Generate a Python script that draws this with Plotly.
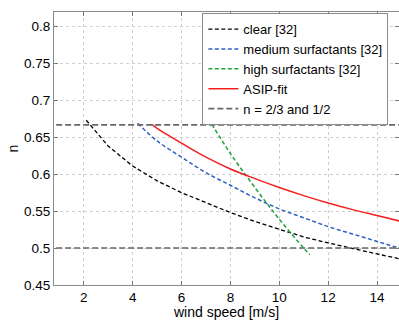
import plotly.graph_objects as go

# ---- data ----
clear_u = [2.1, 3, 4, 5, 6, 7, 8, 9, 10, 11, 12, 13, 14, 15]
clear_n = [0.673, 0.638, 0.611, 0.591, 0.575, 0.561, 0.548, 0.536, 0.525, 0.515, 0.507, 0.499, 0.492, 0.485]

medium_u = [4.2, 5, 6, 7, 8, 9, 10, 11, 12, 13, 14, 15]
medium_n = [0.669, 0.645, 0.623, 0.602, 0.585, 0.568, 0.553, 0.541, 0.529, 0.519, 0.509, 0.499]

high_u = [7.1, 8, 9, 10, 11, 11.25]
high_n = [0.675, 0.628, 0.582, 0.539, 0.500, 0.491]

asip_u = [4.8, 5, 6, 7, 8, 9, 10, 11, 12, 13, 14, 15]
asip_n = [0.667, 0.662, 0.642, 0.623, 0.607, 0.594, 0.582, 0.571, 0.561, 0.552, 0.544, 0.536]

ref_levels = [2 / 3, 1 / 2]
ref_u = [0.5, 15.5]

x_ticks = [2, 4, 6, 8, 10, 12, 14]
y_ticks = [0.45, 0.5, 0.55, 0.6, 0.65, 0.7, 0.75, 0.8]
y_tick_text = ["0.45", "0.5", "0.55", "0.6", "0.65", "0.7", "0.75", "0.8"]

FONT = "Liberation Sans, Arial, Helvetica, sans-serif"

fig = go.Figure()

fig.add_trace(go.Scatter(x=clear_u, y=clear_n, mode="lines", name="clear [32]",
                         line=dict(color="#000000", width=1.3, dash="4px,2.5px")))
fig.add_trace(go.Scatter(x=medium_u, y=medium_n, mode="lines", name="medium surfactants [32]",
                         line=dict(color="#2f5fc4", width=1.5, dash="4px,2.5px", shape="spline")))
fig.add_trace(go.Scatter(x=high_u, y=high_n, mode="lines", name="high surfactants [32]",
                         line=dict(color="#1fa33a", width=1.5, dash="4px,2.5px", shape="spline")))
fig.add_trace(go.Scatter(x=asip_u, y=asip_n, mode="lines", name="ASIP-fit",
                         line=dict(color="#f42020", width=1.5, shape="spline")))
for i, lvl in enumerate(ref_levels):
    fig.add_trace(go.Scatter(x=ref_u, y=[lvl, lvl], mode="lines", name="n = 2/3 and 1/2",
                             showlegend=(i == 0), legendgroup="ref",
                             line=dict(color="#666666", width=1.6, dash="6px,3px")))

fig.update_layout(
    width=399, height=320,
    margin=dict(l=53.5, r=0, t=12.3, b=34.7, autoexpand=False),
    paper_bgcolor="white", plot_bgcolor="white",
    font=dict(family=FONT, size=14, color="#000000"),
    showlegend=True,
    legend=dict(x=0.43, y=0.996, xanchor="left", yanchor="top",
                bgcolor="white", bordercolor="#8a8a8a", borderwidth=1,
                font=dict(family=FONT, size=13, color="#000000"),
                tracegroupgap=0, itemwidth=30),
)
fig.update_xaxes(
    range=[0.78, 14.9], tickvals=x_ticks, ticks="inside", ticklen=4, tickcolor="#777",
    showline=True, linecolor="#8a8a8a", linewidth=1, mirror="ticks",
    showgrid=True, gridcolor="#cfcfcf", griddash="dot", gridwidth=1, zeroline=False,
    automargin=False,
    tickfont=dict(size=13.5), title=dict(text="wind speed [m/s]", font=dict(size=14), standoff=1),
)
fig.update_yaxes(
    range=[0.45, 0.8195], tickvals=y_ticks, ticktext=y_tick_text, ticks="inside", ticklen=4,
    tickcolor="#777", showline=True, linecolor="#8a8a8a", linewidth=1, mirror="ticks",
    showgrid=True, gridcolor="#cfcfcf", griddash="dot", gridwidth=1, zeroline=False,
    automargin=False,
    tickfont=dict(size=13.5), title=dict(text="n", font=dict(size=14), standoff=2),
)

# remove the page's default body margin so the 399x320 figure fills the window exactly
fig.write_html("out.html", config={"displayModeBar": False},
               post_script="document.body.style.margin='0';document.body.style.overflow='hidden';")
